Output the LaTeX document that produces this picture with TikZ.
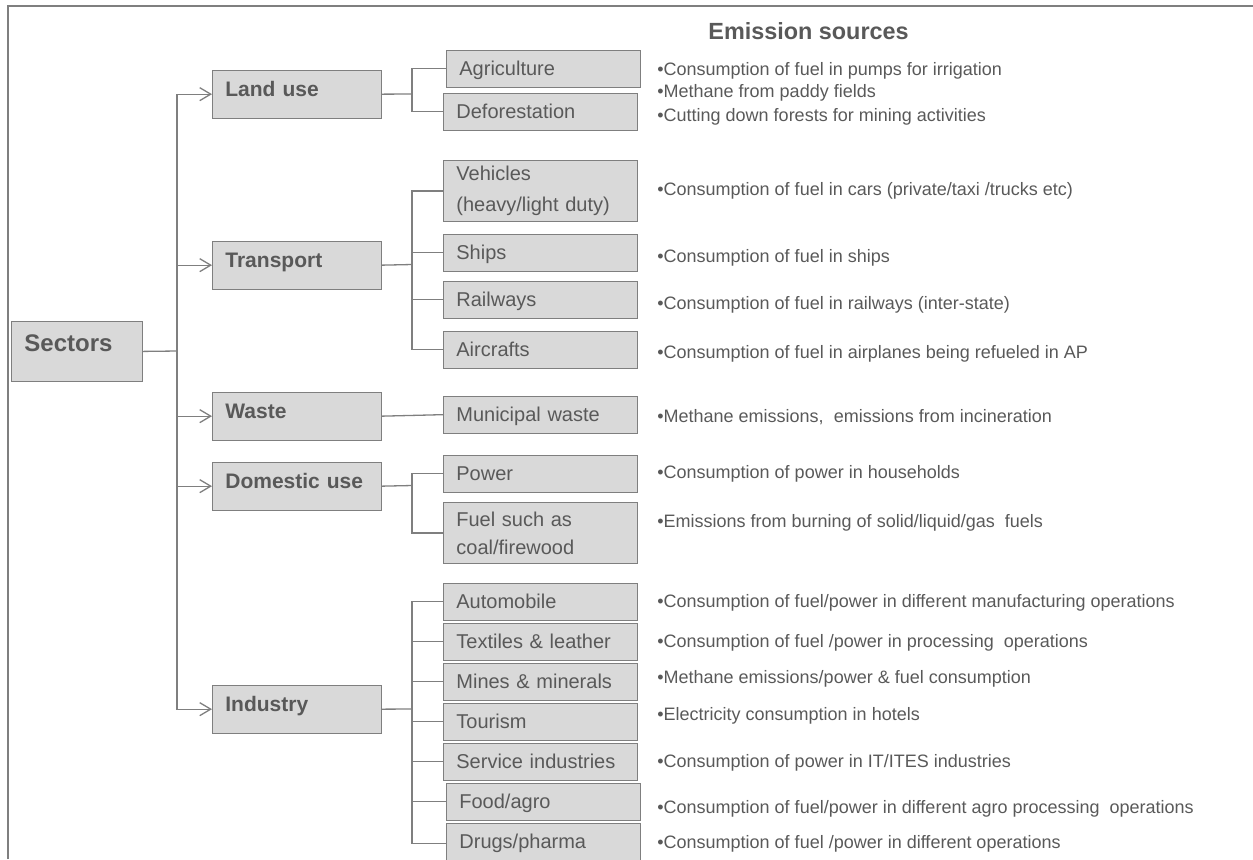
\documentclass[tikz,border=0pt]{standalone}
\usepackage{fontspec}
\setmainfont{Liberation Sans}
\usetikzlibrary{arrows.meta}
\definecolor{boxgray}{RGB}{217,217,217}
\definecolor{linegray}{RGB}{127,127,127}
\definecolor{txtgray}{RGB}{89,89,89}

\begin{document}
\begin{tikzpicture}[x=0.5pt,y=-0.5pt,
    every node/.style={text=txtgray},
    sectorbox/.style={draw=linegray, fill=boxgray, anchor=north west, font=\fontsize{10.5}{12}\selectfont\bfseries,
      text width=71.5pt, inner xsep=6.5pt, inner ysep=0pt, align=left, minimum height=23.75pt, text height=7.5pt, text depth=5pt},
    itemboxbase/.style={draw=linegray, fill=boxgray, anchor=north west, font=\fontsize{10}{14}\selectfont,
      text width=84pt, inner xsep=6.5pt, inner ysep=0pt, align=left},
    itembox/.style={itemboxbase, minimum height=18.25pt, text height=7.2pt, text depth=0pt},
    tallbox/.style={itemboxbase, minimum height=30.5pt},
    note/.style={anchor=west, font=\fontsize{9}{11}\selectfont, inner sep=0pt, text height=6.45pt, text depth=0pt},
    link/.style={draw=linegray, line width=0.65pt},
    feed/.style={link, -{Straight Barb[length=5.5pt,width=6.5pt]}}]
  \useasboundingbox (0,0) rectangle (1253,859);
  % frame (right and bottom edges fall outside the page)
  \draw[linegray, line width=1pt] (8,859) -- (8,6) -- (1253,6);

  % root and sectors
  \node[draw=linegray, fill=boxgray, anchor=north west, font=\fontsize{12}{14}\selectfont\bfseries,
    text width=52.5pt, inner xsep=6.5pt, inner ysep=0pt, align=left, minimum height=30pt,
    text height=9pt, text depth=9pt] (sectors) at (11,321) {Sectors};
  \node[sectorbox] (landuse)   at (212,70)  {Land use};
  \node[sectorbox] (transport) at (212,241) {Transport};
  \node[sectorbox] (waste)     at (212,392) {Waste};
  \node[sectorbox] (domestic)  at (212,462) {Domestic use};
  \node[sectorbox] (industry)  at (212,685) {Industry};

  % items
  \node[itembox] (agri)  at (446,50)  {Agriculture};
  \node[itembox] (defor) at (443,93)  {Deforestation};
  \node[tallbox, font=\fontsize{10}{15.5}\selectfont] (vehic) at (443,160) {Vehicles\\(heavy/light duty)};
  \node[itembox] (ships) at (443,234) {Ships};
  \node[itembox] (rail)  at (443,281) {Railways};
  \node[itembox] (air)   at (443,331) {Aircrafts};
  \node[itembox] (muni)  at (443,396) {Municipal waste};
  \node[itembox] (power) at (443,455) {Power};
  \node[tallbox] (fuel)  at (443,502) {Fuel such as\\coal/firewood};
  \node[itembox] (auto)  at (443,583) {Automobile};
  \node[itembox] (textl) at (443,623) {Textiles \& leather};
  \node[itembox] (mines) at (443,663) {Mines \& minerals};
  \node[itembox] (tour)  at (443,703) {Tourism};
  \node[itembox] (serv)  at (443,743) {Service industries};
  \node[itembox] (food)  at (446,783) {Food/agro};
  \node[itembox, minimum height=20pt, text depth=1.8pt] (drugs) at (446,823) {Drugs/pharma};

  % emission sources
  \node[font=\fontsize{11.7}{14}\selectfont\bfseries, anchor=west, inner sep=0pt] (head) at (708,31) {Emission sources};
  \node[note] (n1)  at (657,69)  {•Consumption of fuel in pumps for irrigation};
  \node[note] (n2)  at (657,91)  {•Methane from paddy fields};
  \node[note] (n3)  at (657,115) {•Cutting down forests for mining activities};
  \node[note] (n4)  at (657,189) {•Consumption of fuel in cars (private/taxi /trucks etc)};
  \node[note] (n5)  at (657,256) {•Consumption of fuel in ships};
  \node[note] (n6)  at (657,303) {•Consumption of fuel in railways (inter-state)};
  \node[note] (n7)  at (657,352) {•Consumption of fuel in airplanes being refueled in AP};
  \node[note] (n8)  at (657,416) {•Methane emissions,\ \ emissions from incineration};
  \node[note] (n9)  at (657,472) {•Consumption of power in households};
  \node[note] (n10) at (657,521) {•Emissions from burning of solid/liquid/gas\ \ fuels};
  \node[note] (n11) at (657,601) {•Consumption of fuel/power in different manufacturing operations};
  \node[note] (n12) at (657,641) {•Consumption of fuel /power in processing\ \ operations};
  \node[note] (n13) at (657,677) {•Methane emissions/power \& fuel consumption};
  \node[note] (n14) at (657,714) {•Electricity consumption in hotels};
  \node[note] (n15) at (657,761) {•Consumption of power in IT/ITES industries};
  \node[note] (n16) at (657,807) {•Consumption of fuel/power in different agro processing\ \ operations};
  \node[note] (n17) at (657,842) {•Consumption of fuel /power in different operations};

  % connectors: root to sectors
  \coordinate (hub) at (177,351);
  \draw[link] (sectors.east) -- (hub);
  \foreach \s in {landuse,transport,waste,domestic,industry}
    \draw[feed] (hub) |- (\s.west);

  % connectors: sectors to items
  \coordinate (landbus)  at (412,94);
  \coordinate (transbus) at (412,264.5);
  \coordinate (dombus)   at (412,485.5);
  \coordinate (indbus)   at (412,709);
  \draw[link] (landuse.east) -- (landbus);
  \draw[link] (transport.east) -- (transbus);
  \draw[link] (domestic.east) -- (dombus);
  \draw[link] (industry.east) -- (indbus);
  \draw[link] (waste.east) -- (muni.west);
  \foreach \c in {agri,defor}
    \draw[link] (landbus) |- (\c.west);
  \foreach \c in {vehic,ships,rail,air}
    \draw[link] (transbus) |- (\c.west);
  \foreach \c in {power,fuel}
    \draw[link] (dombus) |- (\c.west);
  \foreach \c in {auto,textl,mines,tour,serv,food,drugs}
    \draw[link] (indbus) |- (\c.west);
\end{tikzpicture}
\end{document}
